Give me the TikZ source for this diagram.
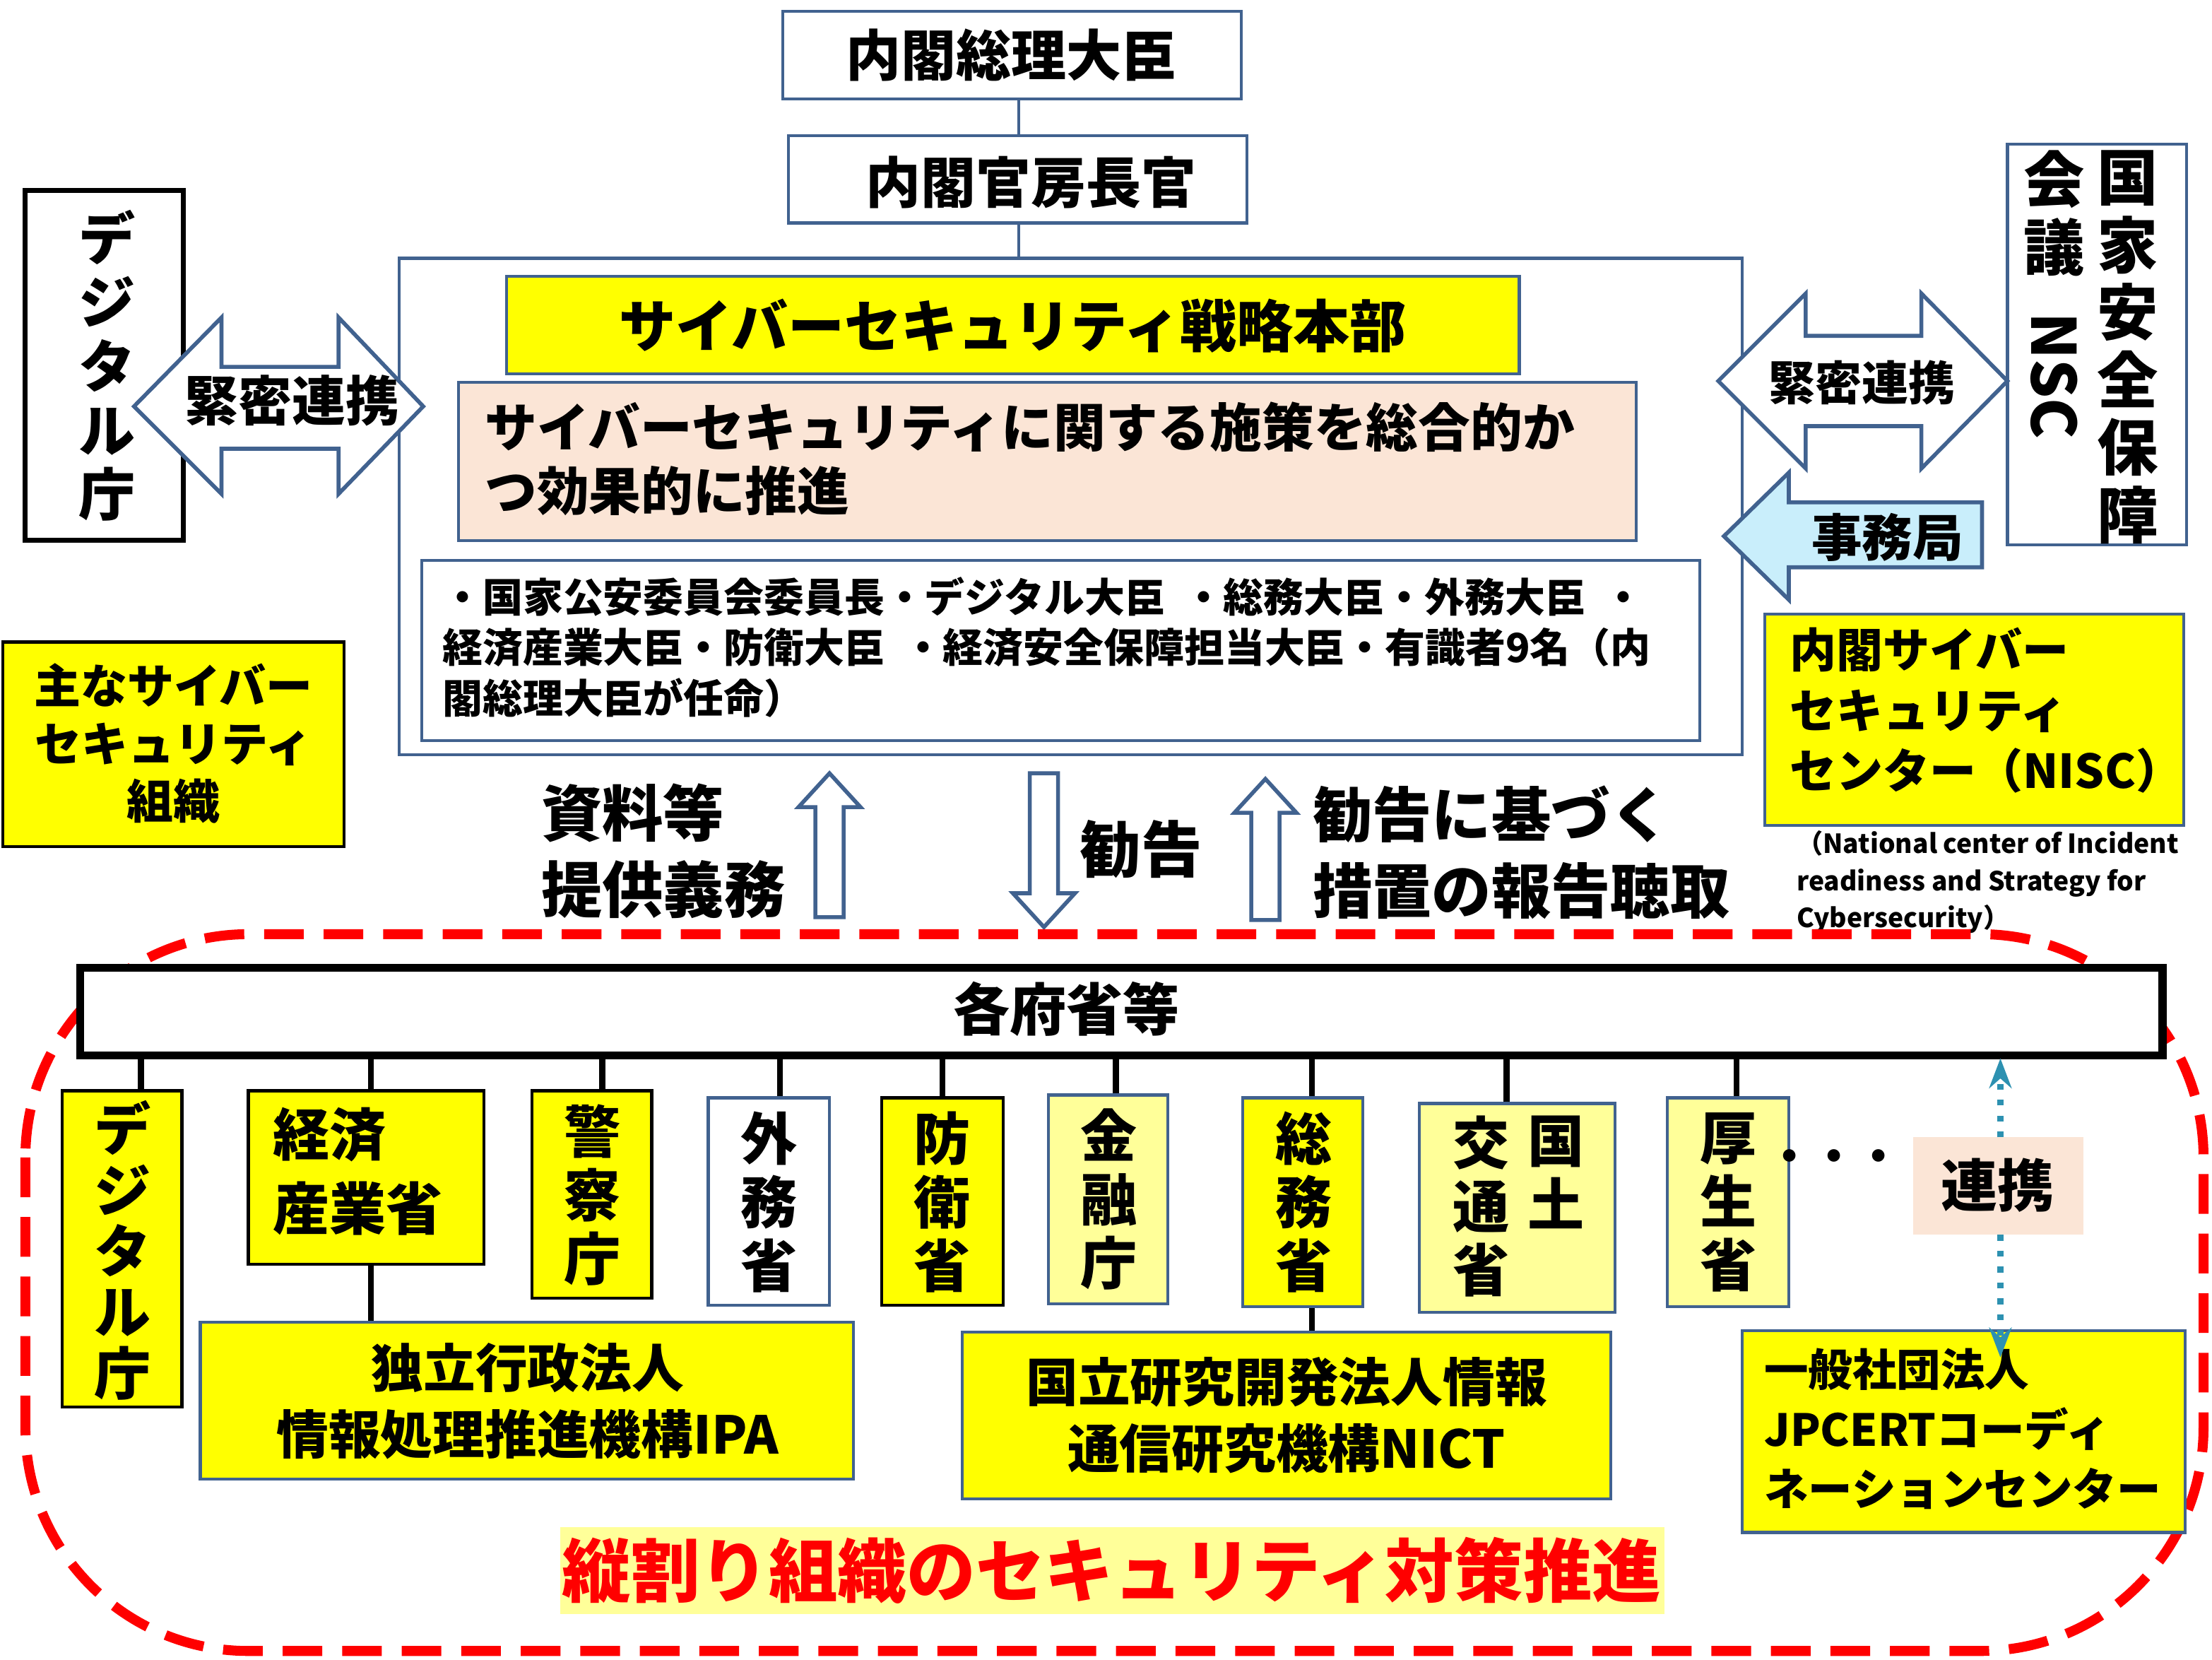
\documentclass[tikz,border=0pt]{standalone}
\usepackage{fontspec}
\setmainfont{Noto Sans CJK JP}
\usepackage{graphicx}
\usetikzlibrary{arrows.meta}
\definecolor{bd}{HTML}{41628F}
\definecolor{yel}{HTML}{FFFF00}
\definecolor{pyel}{HTML}{FFFF99}
\definecolor{peach}{HTML}{FBE5D6}
\definecolor{lblue}{HTML}{C9EEFB}
\definecolor{hl}{HTML}{FFFF99}
\newcommand\fz[2]{\fontsize{#1}{#2}\selectfont\bfseries}
\begin{document}
\begin{tikzpicture}[x=0.01cm,y=-0.01cm,
  box/.style={draw=bd,line width=0.6pt,inner sep=0pt},
  ybox/.style={box,fill=yel},
  pbox/.style={box,fill=pyel},
  arr/.style={draw=bd,line width=0.8pt,fill=white,line join=miter},
  txt/.style={inner sep=0pt,align=left},
  vtxt/.style={inner sep=0pt,align=center},
  vt/.style={vtxt,font=\fz{11.4}{12.8}}]
\useasboundingbox (0,0) rectangle (1568,1176);
% top chain
\draw[box] (555,8) rectangle (880,70);
\node[font=\fz{11.1}{12}] (pm) at (717,39) {内閣総理大臣};
\draw[box] (559,96) rectangle (884,158);
\node[font=\fz{11.1}{12}] (cs) at (731,129) {内閣官房長官};
\draw[bd,line width=0.6pt] (722,70)--(722,96) (722,158)--(722,183);
\draw[box] (283,183) rectangle (1235,535);
\draw[ybox] (359,196) rectangle (1077,265);
\node[font=\fz{11.4}{12}] (hq) at (718,231) {サイバーセキュリティ戦略本部};
\draw[box,fill=peach] (325,271) rectangle (1160,383);
\node[txt,anchor=north west,font=\fz{10.5}{12.8}] (pol) at (343,284) {サイバーセキュリティに関する施策を総合的か\\つ効果的に推進};
\draw[box] (299,397) rectangle (1205,525);
\node[txt,anchor=north west,font=\fz{8.1}{10.2}] (mem) at (313,408) {・国家公安委員会委員長・デジタル大臣\ \ ・総務大臣・外務大臣\ \ ・\\経済産業大臣・防衛大臣\ \ ・経済安全保障担当大臣・有識者9名（内\\閣総理大臣が任命）};
% left digital
\draw[draw=black,line width=1pt] (18,135) rectangle (130,383);
\node[vtxt,font=\fz{11.4}{12.9}] (dg) at (76,259) {デ\\ジ\\タ\\ル\\庁};
\draw[arr] (95,288)--(157,225)--(157,260)--(240,260)--(240,225)--(300,288)--(240,350)--(240,318)--(157,318)--(157,350)--cycle;
\node[font=\fz{10.8}{12}] (k1) at (207,284) {緊密連携};
% right NSC
\draw[arr] (1218,270)--(1280,208)--(1280,238)--(1362,238)--(1362,208)--(1423,270)--(1362,332)--(1362,302)--(1280,302)--(1280,332)--cycle;
\node[font=\fz{9.4}{10}] (k2) at (1320,271) {緊密連携};
\draw[box] (1423,102) rectangle (1550,386);
\node[vtxt,anchor=north,font=\fz{12.3}{13.6}] (nsc1) at (1508,106) {国\\家\\安\\全\\保\\障};
\node[vtxt,anchor=north,font=\fz{12.3}{13.6}] (nsc2) at (1456,106) {会\\議\\[-5pt]\rotatebox{-90}{NSC}};
\draw[arr,fill=lblue] (1222,380)--(1268,335)--(1268,356)--(1405,356)--(1405,402)--(1268,402)--(1268,425)--cycle;
\node[font=\fz{10.2}{11}] (jm) at (1338,381) {事務局};
\draw[ybox] (1251,435) rectangle (1548,585);
\node[txt,anchor=north west,font=\fz{9.4}{12.2}] (nisc) at (1268,444) {内閣サイバー\\セキュリティ\\センター（NISC）};
\node[txt,anchor=north west,font=\fz{5.3}{7.5}] (nisce) at (1273,588) {（National center of Incident\\readiness and Strategy for\\Cybersecurity）};
\draw[ybox,draw=black] (2,455) rectangle (244,600);
\node[vtxt,font=\fz{9.4}{11.6}] (main) at (123,527) {主なサイバー\\セキュリティ\\組織};
% mid arrows
\draw[arr] (588,548)--(610,572)--(598,572)--(598,650)--(578,650)--(578,572)--(566,572)--cycle;
\node[txt,anchor=west,font=\fz{12.3}{15.3}] (sr) at (383,603) {資料等\\提供義務};
\draw[arr] (740,657)--(718,633)--(730,633)--(730,548)--(750,548)--(750,633)--(762,633)--cycle;
\node[txt,anchor=west,font=\fz{12.3}{13}] (kk) at (765,602) {勧告};
\draw[arr] (897,552)--(919,576)--(907,576)--(907,652)--(887,652)--(887,576)--(875,576)--cycle;
\node[txt,anchor=west,font=\fz{12}{15.3}] (kh) at (930,604) {勧告に基づく\\措置の報告聴取};
% red dashed
\draw[red,line width=2pt,dash pattern=on 8pt off 4pt,rounded corners=45] (18,662) rectangle (1562,1170);
\draw[black,line width=1.6pt,fill=white] (57,686) rectangle (1533,748);
\node[font=\fz{11.4}{12}] (fs) at (756,715) {各府省等};
\foreach \x/\y in {100/773,263/773,427/773,553/778,668/778,791/776,930/778,1068/782,1231/778}
  \draw[black,line width=1.2pt] (\x,748)--(\x,\y);
\draw[black,line width=1.2pt] (263,896)--(263,937) (930,926)--(930,944);
\draw[ybox,draw=black] (44,773) rectangle (129,997);
\node[vtxt,font=\fz{11.4}{12.3}] (d2) at (87,886) {デ\\ジ\\タ\\ル\\庁};
\draw[ybox,draw=black] (176,773) rectangle (343,896);
\node[txt,anchor=north west,font=\fz{11.4}{15}] (meti) at (193,784) {経済\\産業省};
\draw[ybox,draw=black] (377,773) rectangle (462,920);
\node[vt] (npa) at (420,847) {警\\察\\庁};
\draw[box,fill=white] (502,778) rectangle (588,925);
\node[vt] (mofa) at (545,852) {外\\務\\省};
\draw[ybox,draw=black] (625,778) rectangle (711,925);
\node[vt] (mod) at (668,852) {防\\衛\\省};
\draw[pbox] (743,776) rectangle (828,924);
\node[vt] (fsa) at (786,850) {金\\融\\庁};
\draw[ybox] (881,778) rectangle (966,926);
\node[vt] (mic) at (924,852) {総\\務\\省};
\draw[pbox] (1006,782) rectangle (1145,930);
\node[vt,anchor=north] (mlit1) at (1103,790) {国\\土};
\node[vt,anchor=north] (mlit2) at (1050,790) {交\\通\\省};
\draw[pbox] (1182,778) rectangle (1268,926);
\node[vt] (mhlw) at (1225,852) {厚\\生\\省};
\node[font=\fz{9}{10}] (dots) at (1300,823) {・・・};
\fill[peach] (1356,806) rectangle (1477,875);
\node[font=\fz{11.4}{12}] (rk) at (1416,840) {連携};
\draw[ybox] (142,937) rectangle (605,1048);
\node[vtxt,font=\fz{10.5}{13.5}] (ipa) at (374,993) {独立行政法人\\情報処理推進機構IPA};
\draw[ybox] (682,944) rectangle (1142,1062);
\node[vtxt,font=\fz{10.5}{13.5}] (nict) at (912,1003) {国立研究開発法人情報\\通信研究機構NICT};
\draw[ybox] (1235,943) rectangle (1549,1086);
\node[txt,anchor=north west,font=\fz{8.9}{12}] (jpc) at (1250,955) {一般社団法人\\JPCERTコーディ\\ネーションセンター};
\coordinate (ca) at (1418,750);
\coordinate (cb) at (1418,962);
\draw[bd!70!cyan,line width=1.2pt,dotted,-{Stealth[length=6pt]}] (1418,806)--(ca);
\draw[bd!70!cyan,line width=1.2pt,dotted,-{Stealth[length=6pt]}] (1418,875)--(cb);
\fill[hl] (397,1082) rectangle (1180,1144);
\node[red,font=\fz{13.9}{15}] (tate) at (788,1113) {縦割り組織のセキュリティ対策推進};
\end{tikzpicture}
\end{document}
